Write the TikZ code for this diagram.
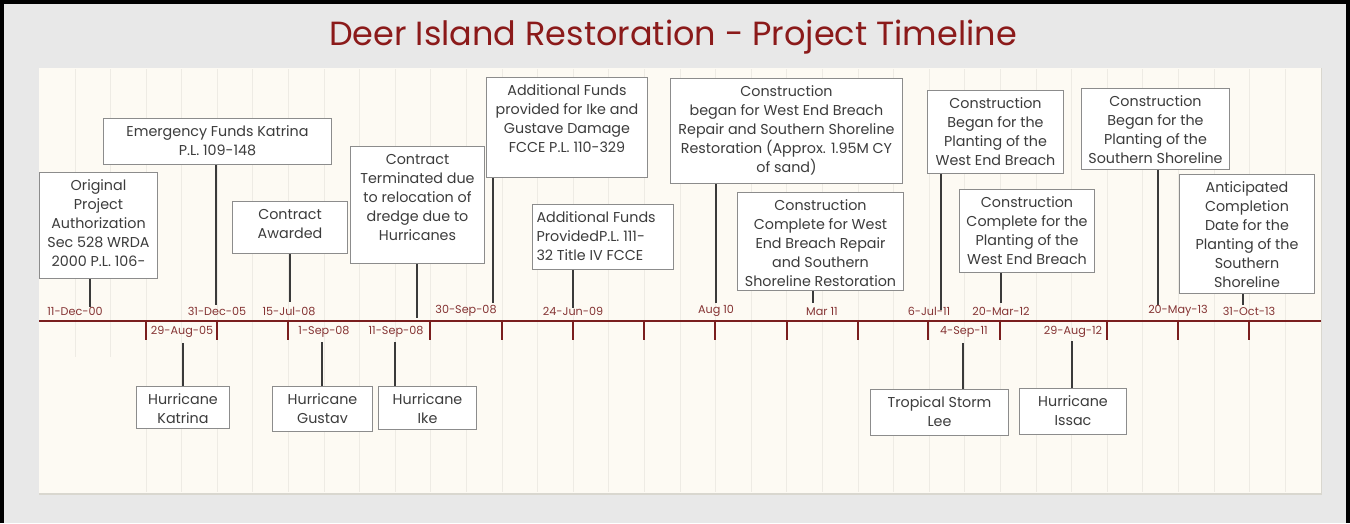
\documentclass[tikz,border=0pt]{standalone}
\usepackage{fontspec}
\setmainfont{Poppins}
\definecolor{bg}{HTML}{E8E8E8}
\definecolor{panel}{HTML}{FDFAF3}
\definecolor{paneledge}{HTML}{D9D7CF}
\definecolor{gridc}{HTML}{EEEBE4}
\definecolor{axisc}{HTML}{7A1E1E}
\definecolor{datec}{HTML}{853434}
\definecolor{titlec}{HTML}{8B1A1A}
\definecolor{boxline}{HTML}{8C8C8C}
\definecolor{boxtext}{HTML}{3C3C3C}
\definecolor{connc}{HTML}{3A3A3A}
\newcommand\bx[3]{\parbox[c][#2pt][t]{#1pt}{\centering\leftskip=-14pt plus 1fil\relax\rightskip=-14pt plus 1fil\relax\rule{0pt}{18pt}#3\par}}
\newcommand\bxl[3]{\parbox[c][#2pt][t]{#1pt}{\raggedright\leftskip=4pt\rightskip=-14pt plus 1fil\relax\rule{0pt}{18pt}#3\par}}
\tikzset{
  evbox/.style={draw=boxline, line width=1pt, fill=white, inner sep=0pt, anchor=north west,
    font=\fontsize{14.3}{19}\selectfont, text=boxtext},
  conn/.style={draw=connc, line width=1.2pt},
  datelbl/.style={font=\fontsize{11.2}{13}\selectfont, text=datec, inner sep=0pt},
  axisline/.style={draw=axisc, line width=2.6pt},
  tickline/.style={draw=axisc, line width=2pt},
  gridline/.style={draw=gridc, line width=1pt},
  titlestyle/.style={font=\fontsize{33.5}{38}\selectfont, text=titlec, inner sep=0pt}
}
\begin{document}
\begin{tikzpicture}[x=1pt,y=-1pt]
\useasboundingbox (0,0) rectangle (1350,523);
% background
\fill[bg] (0,0) rectangle (1350,523);
\draw[black, line width=4pt] (2,523) -- (2,2) -- (1348,2) -- (1348,523);
% panel
\fill[paneledge] (39,68) rectangle (1322,495);
\fill[panel] (39,68) rectangle (1321,493);
% grid
\foreach \k in {0,...,32}{
  \pgfmathsetmacro\gx{146+35.6*\k}
  \draw[gridline] (\gx,69) -- (\gx,492);
}
\foreach \gx in {75,110}{\draw[gridline] (\gx,69) -- (\gx,357);}
% title
\node[titlestyle] (title) at (673,37) {Deer Island Restoration - Project Timeline};
% axis
\draw[axisline] (39,321) -- (1321,321);
\foreach \x in {146,217,288,430,502,573,644,715,787,858,928,1000,1107,1178,1249}
  \draw[tickline] (\x,321) -- (\x,340);
% upper boxes
\node[evbox] (b1) at (39,172) {\bx{118}{106}{Original\\Project\\Authorization\\Sec 528 WRDA\\2000 P.L. 106-}};
\node[evbox] (b2) at (103,118) {\bx{228}{46}{Emergency Funds Katrina\\P.L. 109-148}};
\node[evbox] (b3) at (232,201) {\bx{115}{52}{Contract\\Awarded}};
\node[evbox] (b4) at (350,146) {\bx{134}{117}{Contract\\Terminated due\\to relocation of\\dredge due to\\Hurricanes}};
\node[evbox] (b5) at (486,77) {\bx{161}{100}{Additional Funds\\provided for Ike and\\Gustave Damage\\FCCE P.L. 110-329}};
\node[evbox] (b6) at (532,204) {\bxl{141}{65}{Additional Funds\\ProvidedP.L. 111-\\32 Title IV FCCE}};
\node[evbox] (b7) at (670,78) {\bx{232}{105}{Construction\\began for West End Breach\\Repair and Southern Shoreline\\Restoration (Approx. 1.95M CY\\of sand)}};
\node[evbox] (b8) at (737,192) {\bx{166}{98}{Construction\\Complete for West\\End Breach Repair\\and Southern\\Shoreline Restoration}};
\node[evbox] (b9) at (927,90) {\bx{136}{83}{Construction\\Began for the\\Planting of the\\West End Breach}};
\node[evbox] (b10) at (959,189) {\bx{135}{83}{Construction\\Complete for the\\Planting of the\\West End Breach}};
\node[evbox] (b11) at (1081,88) {\bx{148}{81}{Construction\\Began for the\\Planting of the\\Southern Shoreline}};
\node[evbox] (b12) at (1179,174) {\bx{135}{119}{Anticipated\\Completion\\Date for the\\Planting of the\\Southern\\Shoreline}};
% lower boxes
\node[evbox] (k1) at (136,386) {\bx{93}{42}{Hurricane\\Katrina}};
\node[evbox] (k2) at (272,386) {\bx{100}{45}{Hurricane\\Gustav}};
\node[evbox] (k3) at (378,386) {\bx{98}{43}{Hurricane\\Ike}};
\node[evbox] (k4) at (870,389) {\bx{138}{46}{Tropical Storm\\Lee}};
\node[evbox] (k5) at (1019,388) {\bx{107}{46}{Hurricane\\Issac}};
% connector ends
\coordinate (e1) at (90,307);
\coordinate (e2) at (216,305);
\coordinate (e3) at (290,302);
\coordinate (e4) at (417,318);
\coordinate (e5) at (493,303);
\coordinate (e6) at (573,308);
\coordinate (e7) at (716,303);
\coordinate (e8) at (813,303);
\coordinate (e9) at (941,310);
\coordinate (e10) at (1001,303);
\coordinate (e11) at (1158,305);
\coordinate (e12) at (1243,305);
\coordinate (f1) at (183,343);
\coordinate (f2) at (322,342);
\coordinate (f3) at (395,342);
\coordinate (f4) at (963,343);
\coordinate (f5) at (1072,341);
\foreach \i in {1,...,12} \draw[conn] (b\i.south -| e\i) -- (e\i);
\foreach \i in {1,...,5} \draw[conn] (f\i) -- (k\i.north -| f\i);
% date labels above axis
\node[datelbl] (d1) at (75,311) {11-Dec-00};
\node[datelbl] (d2) at (217,311) {31-Dec-05};
\node[datelbl] (d3) at (289,311) {15-Jul-08};
\node[datelbl] (d4) at (466,311) {30-Sep-08};
\node[datelbl] (d5) at (573,311) {24-Jun-09};
\node[datelbl] (d6) at (716,311) {Aug 10};
\node[datelbl] (d7) at (822,311) {Mar 11};
\node[datelbl] (d8) at (929,311) {6-Jul-11};
\node[datelbl] (d9) at (1001,311) {20-Mar-12};
\node[datelbl] (d10) at (1178,311) {20-May-13};
\node[datelbl] (d11) at (1249,311) {31-Oct-13};
% date labels below axis
\node[datelbl] (u1) at (182,332) {29-Aug-05};
\node[datelbl] (u2) at (324,332) {1-Sep-08};
\node[datelbl] (u3) at (396,332) {11-Sep-08};
\node[datelbl] (u4) at (964,332) {4-Sep-11};
\node[datelbl] (u5) at (1073,332) {29-Aug-12};
\end{tikzpicture}
\end{document}
